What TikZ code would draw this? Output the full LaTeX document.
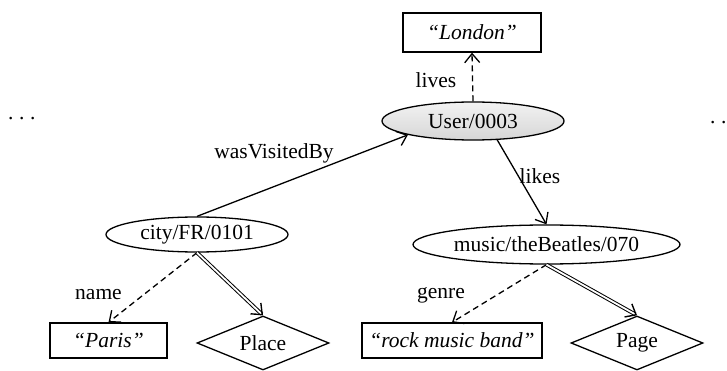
\documentclass[tikz,border=0pt]{standalone}
\usepackage{fontspec}
\setmainfont{Liberation Serif}
\usetikzlibrary{shapes.geometric,arrows.meta}

\newcommand{\spaceddots}{.\kern5.6pt.\kern5.6pt.}

\begin{document}
\begin{tikzpicture}[x=1pt,y=-1pt,
  font=\fontsize{21.5}{24}\selectfont,
  line width=1.3pt,
  res/.style={ellipse,draw,inner sep=0pt},
  lit/.style={rectangle,draw,inner sep=0pt,minimum height=35pt,font=\fontsize{21.5}{24}\selectfont\itshape},
  cls/.style={diamond,draw,inner sep=0pt,aspect=2.4,minimum width=132pt,minimum height=54pt},
  lbl/.style={inner sep=0pt},
  tip/.style={-{Straight Barb[length=9pt,width=15pt,line width=1.3pt]}},
  prop/.style={tip,dash pattern=on 6pt off 4pt},
  link/.style={tip},
  typeof/.style={double,double distance=1.8pt,line width=1pt,
    -{Straight Barb[length=9pt,width=15pt,line width=1.4pt]}}
]
\useasboundingbox (0,0) rectangle (727,371);

% resources
\node[res,minimum width=182pt,minimum height=38pt,
      top color=gray!10,bottom color=gray!32] (user) at (473,121) {User/0003};
\node[res,minimum width=182pt,minimum height=35pt] (city) at (197,234.5) {city/FR/0101};
\node[res,minimum width=267pt,minimum height=39pt] (music) at (546.5,244.5) {music/theBeatles/070};

% literals
\node[lit,minimum width=138pt,minimum height=39pt] (london) at (472,32.5) {``London''};
\node[lit,minimum width=117pt] (paris) at (108.5,340.5) {``Paris''};
\node[lit,minimum width=180pt] (rock) at (452,340.5) {``rock music band''};

% classes
\node[cls] (place) at (263,343) {Place};
\node[cls] (page) at (637,343) {Page};

% continuation marks
\node[lbl,anchor=base west] (dotsl) at (7.5,120) {\spaceddots};
\node[lbl,anchor=base west] (dotsr) at (709.5,124) {\spaceddots};

% properties
\draw[prop] (user.north) -- (london.south);
\draw[link] (city.north) -- (user.192);
\draw[link] (user.-38) -- (music.north);
\draw[prop] (city.south) -- (paris.north);
\draw[prop] (music.south) -- (rock.north);
\draw[typeof] (city.south) -- (place.north);
\draw[typeof] (music.south) -- (page.north);

% property labels
\node[lbl] (lives) at (436,80) {lives};
\node[lbl] (visited) at (274,153) {wasVisitedBy};
\node[lbl] (likes) at (540,176) {likes};
\node[lbl] (name) at (98.5,295) {name};
\node[lbl] (genre) at (441,295) {genre};
\end{tikzpicture}
\end{document}
